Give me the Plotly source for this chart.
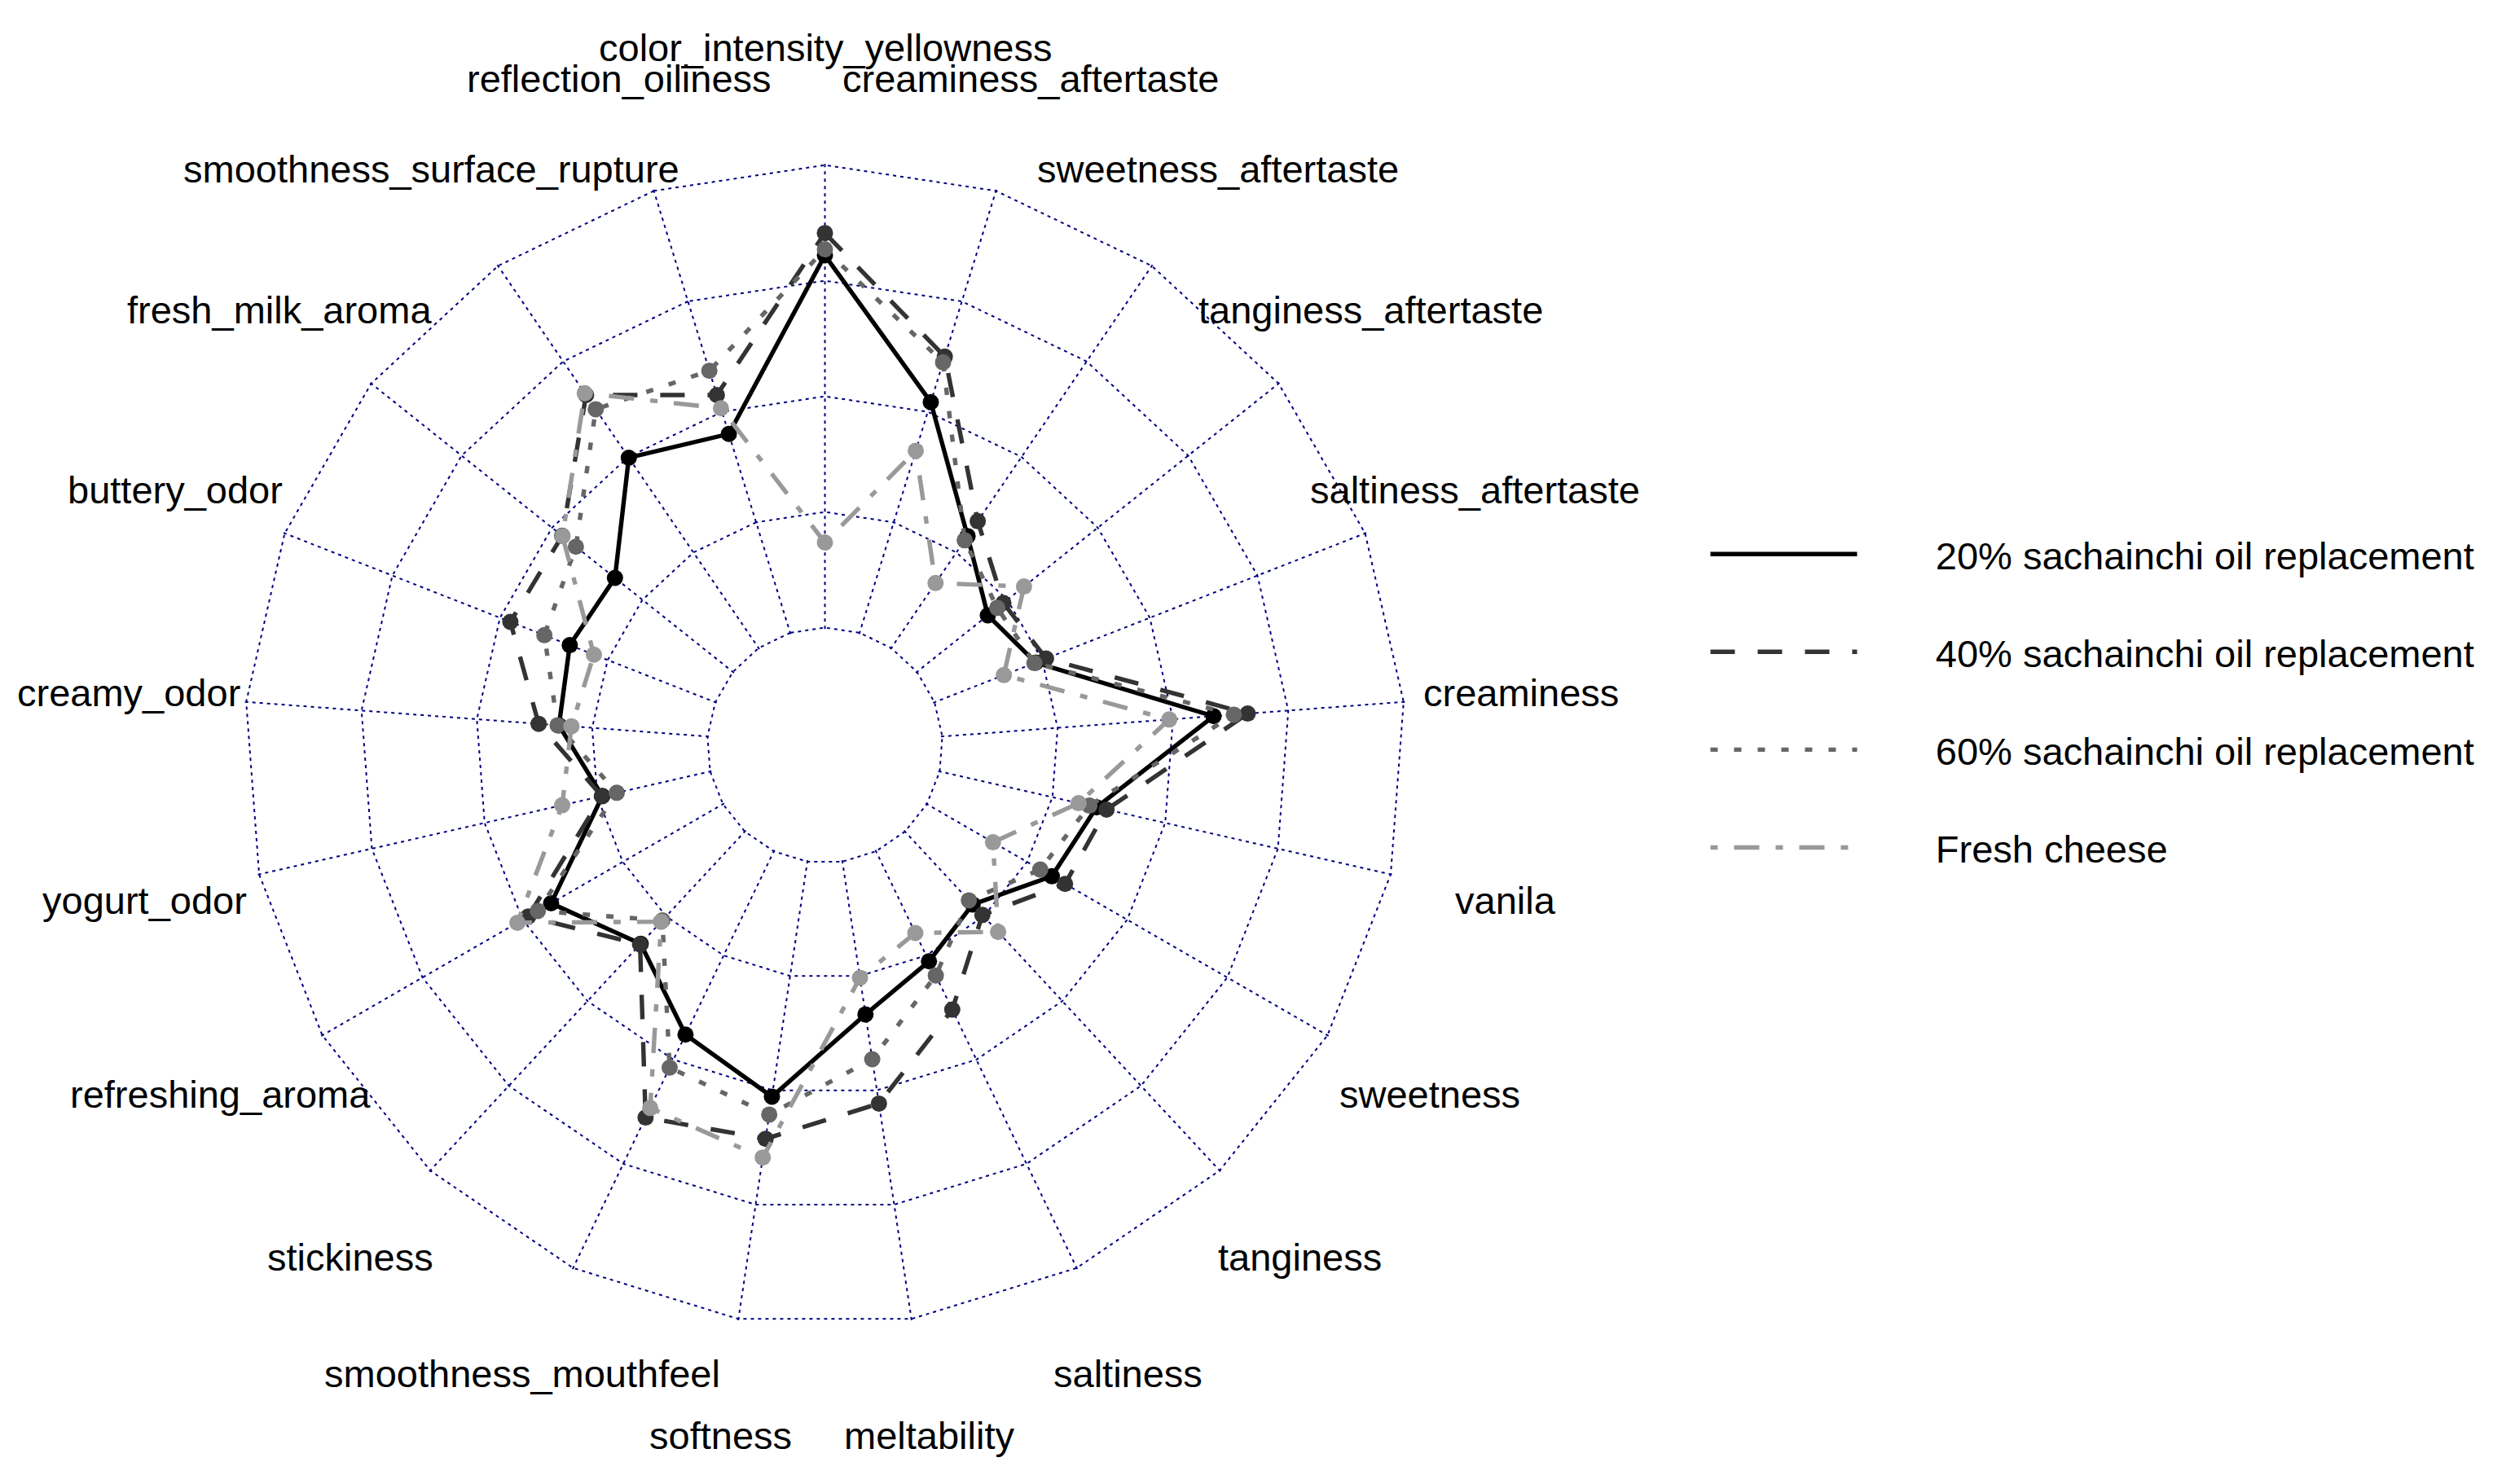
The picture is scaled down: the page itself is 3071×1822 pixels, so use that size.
import math
import plotly.graph_objects as go

categories = [
    "color_intensity_yellowness", "creaminess_aftertaste", "sweetness_aftertaste",
    "tanginess_aftertaste", "saltiness_aftertaste", "creaminess", "vanila",
    "sweetness", "tanginess", "saltiness", "meltability", "softness",
    "smoothness_mouthfeel", "stickiness", "refreshing_aroma", "yogurt_odor",
    "creamy_odor", "buttery_odor", "fresh_milk_aroma",
    "smoothness_surface_rupture", "reflection_oiliness",
]

series_names = [
    "20% sachainchi oil replacement",
    "40% sachainchi oil replacement",
    "60% sachainchi oil replacement",
    "Fresh cheese",
]

oil_20 = [8.05, 5.22, 2.93, 1.96, 2.35, 5.88, 3.48, 3.12, 2.15, 2.64, 3.34,
          5.14, 4.40, 3.31, 4.29, 2.39, 3.22, 3.38, 3.26, 4.98, 4.50]
oil_40 = [8.53, 6.25, 3.32, 2.39, 2.59, 6.62, 3.70, 3.45, 2.46, 3.80, 5.29,
          6.06, 6.39, 3.33, 4.86, 2.40, 3.66, 4.76, 4.72, 6.62, 5.38]
oil_60 = [8.18, 6.12, 2.82, 2.22, 2.32, 6.32, 3.32, 2.83, 2.03, 2.98, 4.32,
          5.53, 5.19, 2.62, 4.62, 2.07, 3.25, 3.97, 4.34, 6.25, 5.93]
fresh_cheese = [1.84, 4.12, 1.70, 2.96, 1.61, 4.92, 3.08, 1.65, 2.96, 1.96, 2.54,
                6.47, 6.16, 2.66, 5.13, 3.28, 2.95, 2.82, 4.71, 6.67, 5.08]

scale_min, scale_max = 0, 10
grid_levels = [0, 2.5, 5, 7.5, 10]

styles = [
    dict(color="#000000", dash="solid"),
    dict(color="#333333", dash="30px,28px"),
    dict(color="#666666", dash="9px,20px"),
    dict(color="#999999", dash="9px,20px,31px,20px"),
]

W, H = 3071, 1822
# polar placement (paper fractions)
dom_x = [0.0972, 0.5622]
dom_y = [0.1059, 0.8897]
label_factor = 1.2  # labels sit at 1.2 x outer radius

fig = go.Figure()
for name, vals, st in zip(series_names, [oil_20, oil_40, oil_60, fresh_cheese], styles):
    fig.add_trace(go.Scatterpolar(
        r=vals + vals[:1],
        theta=categories + categories[:1],
        mode="lines",
        name="\u00a0" * 7 + name,
        legendgroup=name,
        line=dict(color=st["color"], dash=st["dash"], width=5.4),
        hoverinfo="skip",
    ))
    fig.add_trace(go.Scatterpolar(
        r=vals,
        theta=categories,
        mode="markers",
        name=name,
        legendgroup=name,
        showlegend=False,
        marker=dict(color=st["color"], size=20),
    ))

# category labels around the web
cxp = (dom_x[0] + dom_x[1]) / 2
cyp = (dom_y[0] + dom_y[1]) / 2
R_px = (dom_x[1] - dom_x[0]) * W / 2
n = len(categories)
annotations = []
for i, cat in enumerate(categories):
    ang = math.radians(90 - i * 360 / n)
    annotations.append(dict(
        x=cxp + label_factor * R_px * math.cos(ang) / W,
        y=cyp + label_factor * R_px * math.sin(ang) / H,
        xref="paper", yref="paper",
        text=cat, showarrow=False,
        xanchor="center", yanchor="middle",
        font=dict(family="Liberation Sans, Arial, sans-serif", size=47, color="#000000"),
    ))

navy = "#000080"
eps = 0.03  # keeps the innermost/outermost grid polygons from being clipped
fig.update_layout(
    width=W,
    height=H,
    margin=dict(l=0, r=0, t=0, b=0, autoexpand=False),
    paper_bgcolor="white",
    plot_bgcolor="white",
    font=dict(family="Liberation Sans, Arial, sans-serif", color="#000000"),
    annotations=annotations,
    polar=dict(
        domain=dict(x=dom_x, y=dom_y),
        bgcolor="white",
        hole=0.2,
        gridshape="linear",
        radialaxis=dict(
            range=[scale_min - eps, scale_max + eps],
            tickvals=grid_levels,
            showticklabels=False,
            ticks="",
            showline=False,
            gridcolor=navy,
            griddash="4px,5px",
            gridwidth=2.4,
        ),
        angularaxis=dict(
            rotation=90,
            direction="clockwise",
            showticklabels=False,
            ticks="",
            showline=False,
            gridcolor=navy,
            griddash="4px,5px",
            gridwidth=2.4,
        ),
    ),
    legend=dict(
        x=0.682,
        y=0.647,
        xanchor="left",
        yanchor="top",
        font=dict(family="Liberation Sans, Arial, sans-serif", size=47),
        itemwidth=180,
        tracegroupgap=56,
        bgcolor="rgba(0,0,0,0)",
    ),
    showlegend=True,
)

fig.write_html(
    "out.html",
    config={"displayModeBar": False},
    post_script="document.body.style.margin='0';document.body.style.overflow='hidden';",
)
